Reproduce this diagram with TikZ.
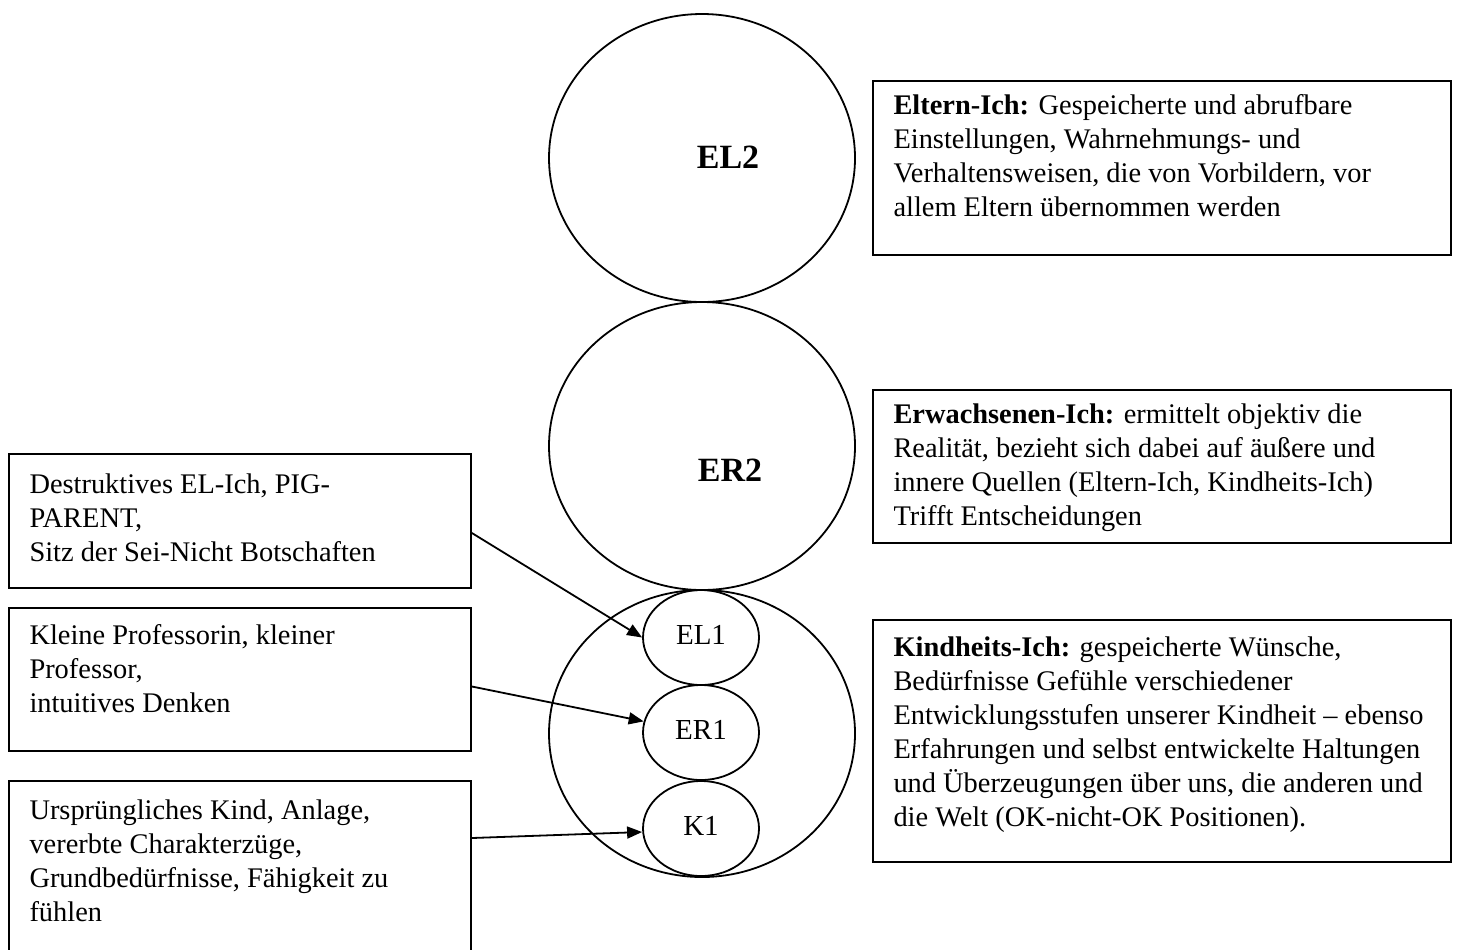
\documentclass[tikz,border=0pt]{standalone}
\usepackage{fontspec}
\setmainfont{Liberation Serif}
\usetikzlibrary{shapes.geometric,arrows.meta}
\begin{document}
\begin{tikzpicture}[x=0.5pt,y=-0.5pt,
  bigell/.style={draw, ellipse, line width=0.9pt, inner sep=0pt, minimum width=153pt, minimum height=144pt},
  smallell/.style={draw, ellipse, line width=0.9pt, inner sep=0pt, minimum width=58pt, minimum height=47.5pt, font=\fontsize{14.5}{16}\selectfont},
  bigtxt/.style={font=\bfseries\fontsize{17}{20}\selectfont, inner sep=0pt},
  boxnode/.style={draw, rectangle, line width=0.9pt, inner sep=0pt},
  txt/.style={anchor=north west, inner sep=0pt, align=left, font=\fontsize{14.2}{17}\selectfont},
  arr/.style={-{Triangle[length=7.5pt,width=6pt]}, line width=0.9pt}]
\useasboundingbox (0,0) rectangle (1459,949);

% ellipses
\node[bigell] (EL2) at (702,158) {};
\node[bigell] (ER2) at (702,446) {};
\node[bigell, minimum height=143.5pt] (K) at (702,733.5) {};
\node[bigtxt] (EL2t) at (728,157) {EL2};
\node[bigtxt] (ER2t) at (730,470) {ER2};
\node[smallell] (EL1) at (701,637.5) {\raisebox{3pt}{EL1}};
\node[smallell] (ER1) at (701,732.5) {\raisebox{3pt}{ER1}};
\node[smallell] (K1) at (701,828.5) {\raisebox{3pt}{K1}};

% right boxes
\node[boxnode, minimum width=289pt, minimum height=87pt] (r1) at (1162,168) {};
\node[txt] (r1t) at ([xshift=10.5pt,yshift=-7pt]r1.north west) {\textbf{Eltern-Ich:} Gespeicherte und abrufbare\\Einstellungen, Wahrnehmungs- und\\Verhaltensweisen, die von Vorbildern, vor\\allem Eltern übernommen werden};

\node[boxnode, minimum width=289pt, minimum height=76.5pt] (r2) at (1162,466.5) {};
\node[txt] (r2t) at ([xshift=10.5pt,yshift=-7pt]r2.north west) {\textbf{Erwachsenen-Ich:} ermittelt objektiv die\\Realität, bezieht sich dabei auf äußere und\\innere Quellen (Eltern-Ich, Kindheits-Ich)\\Trifft Entscheidungen};

\node[boxnode, minimum width=289pt, minimum height=121pt] (r3) at (1162,741) {};
\node[txt] (r3t) at ([xshift=10.5pt,yshift=-8.5pt]r3.north west) {\textbf{Kindheits-Ich:} gespeicherte Wünsche,\\Bedürfnisse Gefühle verschiedener\\Entwicklungsstufen unserer Kindheit -- ebenso\\Erfahrungen und selbst entwickelte Haltungen\\und Überzeugungen über uns, die anderen und\\die Welt (OK-nicht-OK Positionen).};

% left boxes
\node[boxnode, minimum width=231pt, minimum height=67pt] (b1) at (240,521) {};
\node[txt] (b1t) at ([xshift=10.5pt,yshift=-10pt]b1.north west) {Destruktives EL-Ich, PIG-\\PARENT,\\Sitz der Sei-Nicht Botschaften};

\node[boxnode, minimum width=231pt, minimum height=71.5pt] (b2) at (240,679.5) {};
\node[txt] (b2t) at ([xshift=10.5pt,yshift=-8.5pt]b2.north west) {Kleine Professorin, kleiner\\Professor,\\intuitives Denken};

\node[boxnode, minimum width=231pt, minimum height=89.5pt] (b3) at (240,870.5) {};
\node[txt] (b3t) at ([xshift=10.5pt,yshift=-9.5pt]b3.north west) {Ursprüngliches Kind, Anlage,\\vererbte Charakterzüge,\\Grundbedürfnisse, Fähigkeit zu\\fühlen};

% arrows
\draw[arr] ([yshift=-6pt]b1.east) -- (EL1.west);
\draw[arr] ([yshift=-3.5pt]b2.east) -- (ER1.169);
\draw[arr] ([yshift=16.25pt]b3.east) -- ([yshift=-1.75pt]K1.west);
\end{tikzpicture}
\end{document}
